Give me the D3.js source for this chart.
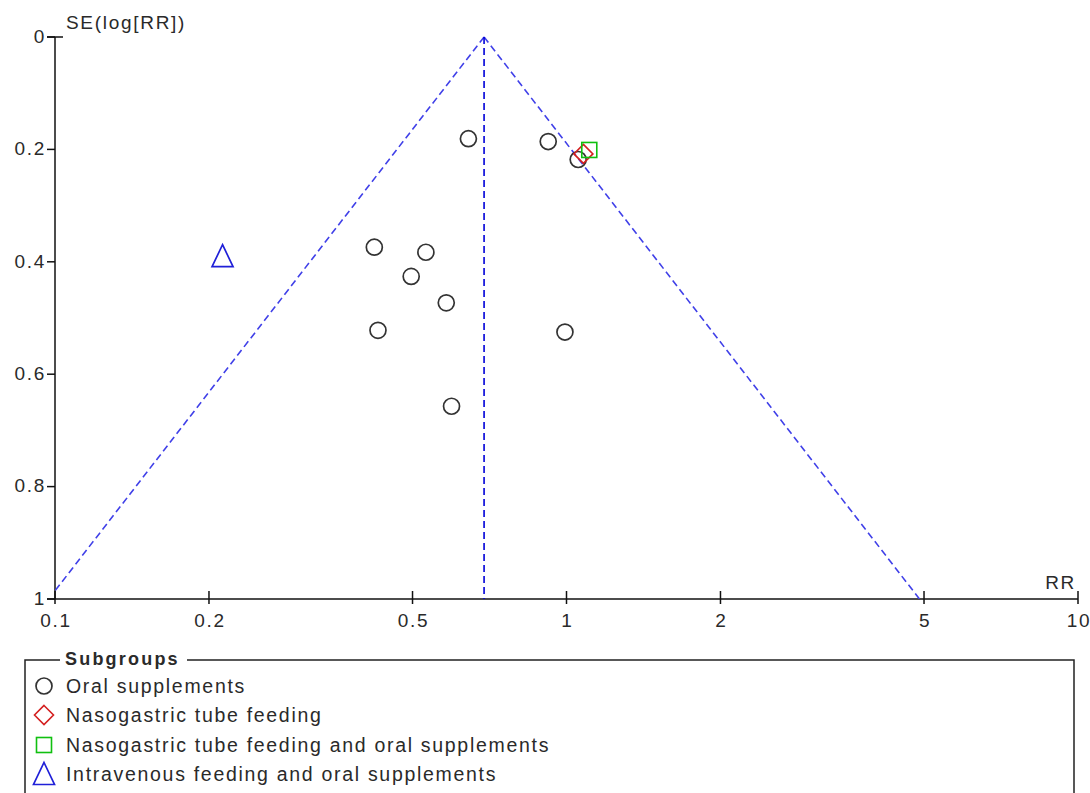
<!DOCTYPE html>
<html><head><meta charset="utf-8">
<script src="https://cdn.jsdelivr.net/npm/d3@7"></script>
<style>
html,body{margin:0;padding:0;background:#fff;}
svg{display:block;}
text{font-family:"Liberation Sans",Arial,sans-serif;fill:#2a2a2a;letter-spacing:1.7px;}
</style></head>
<body>
<svg id="chart" width="1090" height="793"></svg>
<script>
// ---- data ----
const xTicks = [0.1, 0.2, 0.5, 1, 2, 5, 10];
const xTickLabels = ["0.1", "0.2", "0.5", "1", "2", "5", "10"];
const yTicks = [0, 0.2, 0.4, 0.6, 0.8, 1];
const yTickLabels = ["0", "0.2", "0.4", "0.6", "0.8", "1"];
const pooledRR = 0.69;
const oralRR = [0.643, 0.921, 1.054, 0.421, 0.531, 0.497, 0.582, 0.428, 0.993, 0.596];
const oralSE = [0.181, 0.186, 0.218, 0.374, 0.383, 0.426, 0.473, 0.522, 0.525, 0.657];
const ngRR = [1.079];
const ngSE = [0.208];
const ngOralRR = [1.108];
const ngOralSE = [0.201];
const ivRR = [0.2126];
const ivSE = [0.390];
const legendLabels = ["Oral supplements", "Nasogastric tube feeding",
  "Nasogastric tube feeding and oral supplements", "Intravenous feeding and oral supplements"];

// ---- layout ----
const svg = d3.select("#chart");
const x = d3.scaleLog().domain([0.1, 10]).range([55, 1078]);
const y = d3.scaleLinear().domain([0, 1]).range([37, 599]);

const fs = 19;
// axes
svg.append("line").attr("x1", 55).attr("x2", 55).attr("y1", y(0)).attr("y2", y(1))
  .attr("stroke", "#111").attr("stroke-width", 1.5);
svg.append("line").attr("x1", 47).attr("x2", x(10)).attr("y1", y(1)).attr("y2", y(1))
  .attr("stroke", "#111").attr("stroke-width", 1.5);
svg.append("line").attr("x1", 47).attr("x2", 63).attr("y1", y(0)).attr("y2", y(0))
  .attr("stroke", "#111").attr("stroke-width", 1.5);

yTicks.forEach((t, i) => {
  svg.append("line").attr("x1", 47).attr("x2", 55).attr("y1", y(t)).attr("y2", y(t))
    .attr("stroke", "#111").attr("stroke-width", 1.5);
  svg.append("text").attr("x", 46).attr("y", y(t)).attr("dy", "0.3em")
    .attr("text-anchor", "end").attr("font-size", fs).text(yTickLabels[i]);
});
xTicks.forEach((t, i) => {
  svg.append("line").attr("x1", x(t)).attr("x2", x(t)).attr("y1", y(1) - 8).attr("y2", y(1) + 5)
    .attr("stroke", "#111").attr("stroke-width", 1.5);
  svg.append("text").attr("x", x(t) + 1).attr("y", y(1) + 28)
    .attr("text-anchor", "middle").attr("font-size", fs).text(xTickLabels[i]);
});
svg.append("text").attr("x", 66).attr("y", 29).attr("font-size", fs).text("SE(log[RR])");
svg.append("text").attr("x", 1076).attr("y", 589).attr("text-anchor", "end").attr("font-size", fs).text("RR");

// funnel
svg.append("clipPath").attr("id", "plotclip").append("rect")
  .attr("x", 55).attr("y", 30).attr("width", x(10) - 55).attr("height", y(1) - 30);
const z = 1.96;
const leftLine = [[pooledRR, 0], [Math.exp(Math.log(pooledRR) - z), 1]];
const rightLine = [[pooledRR, 0], [Math.exp(Math.log(pooledRR) + z), 1]];
const line = d3.line().x(d => x(d[0])).y(d => y(d[1]));
const fg = svg.append("g").attr("clip-path", "url(#plotclip)");
[leftLine, rightLine].forEach(l => {
  fg.append("path").attr("d", line(l)).attr("fill", "none")
    .attr("stroke", "#4040e8").attr("stroke-width", 1.6).attr("stroke-dasharray", "7,4");
});
fg.append("line").attr("x1", x(pooledRR)).attr("x2", x(pooledRR)).attr("y1", y(0)).attr("y2", y(1))
  .attr("stroke", "#0000d8").attr("stroke-width", 1.6).attr("stroke-dasharray", "7,4");

// markers
function circ(g, cx, cy) {
  g.append("circle").attr("cx", cx).attr("cy", cy).attr("r", 8)
    .attr("fill", "none").attr("stroke", "#333").attr("stroke-width", 1.7);
}
function diamond(g, cx, cy) {
  const s = 9.5;
  g.append("path").attr("d", `M${cx},${cy - s}L${cx + s},${cy}L${cx},${cy + s}L${cx - s},${cy}Z`)
    .attr("fill", "none").attr("stroke", "#d42020").attr("stroke-width", 1.6);
}
function square(g, cx, cy) {
  const s = 7.5;
  g.append("rect").attr("x", cx - s).attr("y", cy - s).attr("width", 2 * s).attr("height", 2 * s)
    .attr("fill", "none").attr("stroke", "#10c010").attr("stroke-width", 1.6);
}
function tri(g, cx, cy) {
  const w = 10.5, h = 21;
  g.append("path").attr("d", `M${cx},${cy - h / 2 - 1}L${cx + w},${cy + h / 2}L${cx - w},${cy + h / 2}Z`)
    .attr("fill", "none").attr("stroke", "#2020d8").attr("stroke-width", 1.7).attr("stroke-linejoin", "miter");
}
const mg = svg.append("g");
oralRR.forEach((r, i) => circ(mg, x(r), y(oralSE[i])));
ngRR.forEach((r, i) => diamond(mg, x(r), y(ngSE[i])));
ngOralRR.forEach((r, i) => square(mg, x(r), y(ngOralSE[i])));
ivRR.forEach((r, i) => tri(mg, x(r), y(ivSE[i])));

// legend
const lg = svg.append("g");
lg.append("path").attr("d", "M60,660H25V800M187,660H1074V800").attr("fill", "none")
  .attr("stroke", "#222").attr("stroke-width", 1.5);
lg.append("text").attr("x", 65).attr("y", 665).attr("font-size", 18).attr("font-weight", "bold")
  .style("letter-spacing", "2.2px").text("Subgroups");
const rowsY = [686, 715, 745, 774];
const markerFns = [circ, diamond, square, tri];
legendLabels.forEach((lab, i) => {
  markerFns[i](lg, 44, rowsY[i]);
  lg.append("text").attr("x", 66).attr("y", rowsY[i]).attr("dy", "0.36em")
    .attr("font-size", 19.5).text(lab);
});
</script>
</body></html>
